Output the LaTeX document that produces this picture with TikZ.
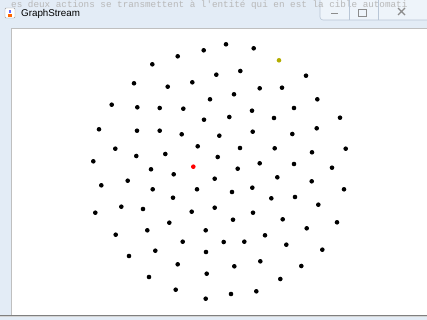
\documentclass[tikz,border=0pt]{standalone}
\usepackage{fontspec}
\setmainfont{Liberation Sans}
\newfontfamily\behindfont{Liberation Mono}
\definecolor{glass}{HTML}{E3ECF6}
\definecolor{glassedge}{HTML}{B9C6D6}
\definecolor{shade}{HTML}{9A9AA6}
\definecolor{selected}{HTML}{FF0000}
\definecolor{anchored}{HTML}{B3AD00}

\begin{document}
\begin{tikzpicture}[
  x=1pt,y=-1pt,font=\fontsize{9.8}{11}\selectfont,
  vertex/.style={circle,fill=black,inner sep=0pt,minimum size=4.6pt},
  behind/.style={anchor=base west,inner sep=0pt,text=black!28,
    font=\behindfont\fontsize{9.3}{10}\selectfont},
  button/.style={draw=glassedge,line width=.6pt},
  glyph/.style={draw=black!45,line width=1.2pt}
]
\path[use as bounding box] (0,0) rectangle (427,320);

% window frame and title bar
\fill[glass] (0,0) rectangle (427,320);
\fill[glass!60!white,rounded corners=3pt,button] (320,-6) rectangle (440,20);
\node[behind] (behindtext) at (11,8)
  {es deux actions se transmettent à l'entité qui en est la cible automati};
\draw[button] (349,0) -- (349,20) (378,0) -- (378,20);
\draw[glyph] (331,13.5) -- (338,13.5);
\draw[draw=black!45,line width=.8pt] (358,9) rectangle (366,16);
\draw[glyph] (398,8) -- (405,15) (398,15) -- (405,8);
\node[draw=black!40,fill=white,minimum size=10pt,inner sep=0pt,rounded corners=1pt] (icon) at (10,13) {};
\fill[orange!80!red] (icon.center) ++(-2,1) rectangle ++(4,3);
\fill[blue!60] (icon.center) ++(-1,-3) rectangle ++(2,3);
\node[anchor=west,inner sep=0pt] (title) at (21,13.5) {GraphStream};

% client area
\filldraw[fill=white,draw=black!25,line width=.6pt] (11,28) rectangle (432,315);
\fill[shade] (0,315) rectangle (427,316.5);

% graph nodes
\foreach \px/\py [count=\i] in {
  203.7/50.3, 177.7/56.3, 152.3/64.3, 216.3/74.7, 134/83.3, 192.3/82.3,
  167.7/86.7, 210/99.3, 111.7/104.7, 137.3/107.3, 159.7/108, 183.3/108.7,
  204/119.7, 99/129.3, 137/130.7, 159.7/130.7, 181.7/134.3, 219.3/135.7,
  197.7/146.3, 115.3/148.7, 136.3/156, 165.3/154, 217.7/157, 93.3/161.3,
  151/169.3,
  226/44.3, 253.7/48.3, 240.3/71, 306/75.7, 259.7/88.3, 282/87.7,
  234/94.3, 317.3/99.3, 252/110.7, 294/108, 229.3/117, 274/118,
  340/117.7, 316.7/128.3, 252.7/131.7, 292.3/134, 240/148, 274.7/148.3,
  345.7/148.7, 312/152.3, 237.7/168.7, 259.7/163.3, 294/164, 332/167.7,
  173.7/174.3, 214.7/178.7, 101.3/185.3, 127.7/180.7, 152.7/189.3, 197/189.3,
  173/197.7, 121.3/206.7, 143/209, 95.3/212.7, 191.7/211.7, 214.7/207.7,
  169.3/222.7, 205.7/230.3, 115.7/234.7, 147.3/230.3, 182.7/241.7, 155.3/250.7,
  206/252, 129/256, 177.7/264.3, 206.7/273.7, 149/277, 175.7/289.7,
  205.7/298.7,
  277.3/177.3, 311.7/181.3, 344/189.3, 232/192, 252.3/187.7, 271.3/198.3,
  295/197, 318.3/204.7, 253/212.7, 233/219.7, 282.7/219.3, 337/222.3,
  306.7/228.3, 223.7/242, 244.3/241.7, 265/235.3, 286.3/244.7, 322.3/249.7,
  234.3/266.3, 260.3/261.3, 301.3/266, 280.3/279, 231/294, 256.3/291.3}
  \node[vertex] (n\i) at (\px,\py) {};
\node[vertex,fill=selected] (red) at (193.3,166.7) {};
\node[vertex,fill=anchored] (yellow) at (279,60.3) {};
\end{tikzpicture}
\end{document}
